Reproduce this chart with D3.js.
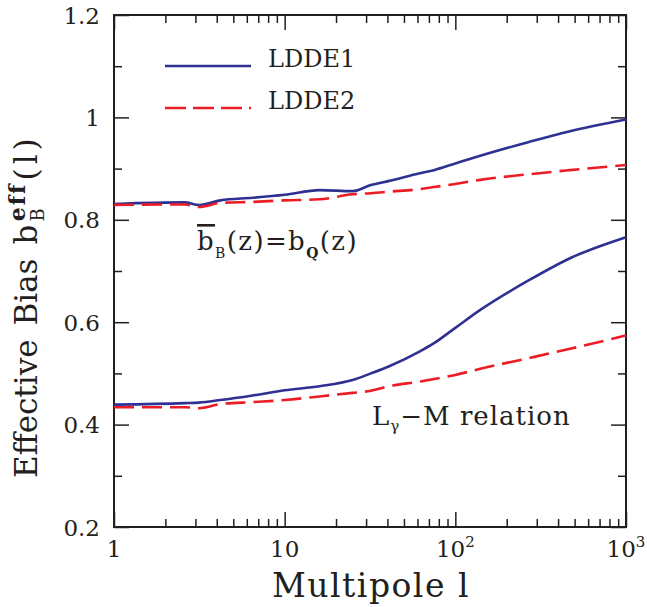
<!DOCTYPE html>
<html>
<head>
<meta charset="utf-8">
<script src="https://cdn.jsdelivr.net/npm/d3@7"></script>
<style>
  body { margin: 0; background: #fff; }
  text { font-family: "DejaVu Serif", serif; fill: #231f20; }
</style>
</head>
<body>
<svg id="chart" width="647" height="607"></svg>
<script>
// multipole values where the curves were read
const ells = [1, 2.6, 3.15, 4.2, 6.5, 10, 16, 25, 32, 41, 62, 75, 100, 140, 270, 470, 1000]

// bbar_B(z) = b_Q(z) case
const ldde1Q = [0.831, 0.834, 0.829, 0.838, 0.843, 0.849, 0.858, 0.856, 0.868, 0.876, 0.891, 0.897, 0.910, 0.925, 0.952, 0.973, 0.996]
const ldde2Q = [0.829, 0.830, 0.825, 0.833, 0.835, 0.838, 0.840, 0.850, 0.852, 0.855, 0.860, 0.864, 0.870, 0.878, 0.889, 0.897, 0.907]

// L_gamma - M relation case
const ldde1LM = [0.439, 0.442, 0.443, 0.448, 0.457, 0.467, 0.475, 0.487, 0.500, 0.514, 0.543, 0.559, 0.589, 0.624, 0.682, 0.725, 0.766]
const ldde2LM = [0.434, 0.434, 0.432, 0.440, 0.444, 0.448, 0.455, 0.462, 0.466, 0.475, 0.484, 0.489, 0.497, 0.509, 0.530, 0.548, 0.574]

const xMajor = [1, 10, 100, 1000]
const xLabels = [["1", ""], ["10", ""], ["10", "2"], ["10", "3"]]
const yMajor = [0.2, 0.4, 0.6, 0.8, 1.0, 1.2]
const yMinor = [0.3, 0.5, 0.7, 0.9, 1.1]

const blue = "#2e3192"
const red = "#ed1c24"

const svg = d3.select("#chart")
const pLeft = 114, pRight = 626, pTop = 15, pBottom = 527

const x = d3.scaleLog().domain([1, 1000]).range([pLeft, pRight])
const y = d3.scaleLinear().domain([0.2, 1.2]).range([pBottom, pTop])

// minor log ticks 2..9 in each decade
const xMinor = []
xMajor.slice(0, -1).forEach(function(d) {
    for (let k = 2; k <= 9; k++) xMinor.push(d * k)
})

function ticks(axisFn, scale, values, size, transform) {
    svg.append("g")
        .attr("transform", transform)
        .call(axisFn(scale).tickValues(values).tickSize(size).tickFormat(""))
        .call(g => g.select(".domain").remove())
        .call(g => g.selectAll("line").attr("stroke", "#231f20").attr("stroke-width", 1.5))
}

ticks(d3.axisBottom, x, xMajor, -15, `translate(0,${pBottom})`)
ticks(d3.axisBottom, x, xMinor, -8, `translate(0,${pBottom})`)
ticks(d3.axisTop, x, xMajor, -15, `translate(0,${pTop})`)
ticks(d3.axisTop, x, xMinor, -8, `translate(0,${pTop})`)
ticks(d3.axisLeft, y, yMajor, -15, `translate(${pLeft},0)`)
ticks(d3.axisLeft, y, yMinor, -8, `translate(${pLeft},0)`)
ticks(d3.axisRight, y, yMajor, -15, `translate(${pRight},0)`)
ticks(d3.axisRight, y, yMinor, -8, `translate(${pRight},0)`)

svg.append("rect")
    .attr("x", pLeft).attr("y", pTop)
    .attr("width", pRight - pLeft).attr("height", pBottom - pTop)
    .attr("fill", "none").attr("stroke", "#231f20").attr("stroke-width", 2)

// tick labels
svg.append("g").selectAll("text").data(yMajor).enter().append("text")
    .attr("x", 100).attr("y", d => y(d) + 8.5)
    .attr("text-anchor", "end")
    .style("font-size", "23px")
    .text(d => d === 1 ? "1" : d.toFixed(1))

const xl = svg.append("g").selectAll("text").data(xMajor).enter().append("text")
    .attr("x", d => x(d)).attr("y", 557)
    .attr("text-anchor", "middle")
    .style("font-size", "23px")
xl.append("tspan").text((d, i) => xLabels[i][0])
xl.append("tspan").attr("dy", -10).style("font-size", "15px").text((d, i) => xLabels[i][1])

// curves
const line = d3.line().x(d => x(d[0])).y(d => y(d[1])).curve(d3.curveMonotoneX)
const series = [
    {vals: ldde1Q, color: blue, dash: null},
    {vals: ldde2Q, color: red, dash: "20,8"},
    {vals: ldde1LM, color: blue, dash: null},
    {vals: ldde2LM, color: red, dash: "20,8"}
]
series.forEach(function(s) {
    svg.append("path")
        .datum(d3.zip(ells, s.vals))
        .attr("d", line)
        .attr("fill", "none")
        .attr("stroke", s.color)
        .attr("stroke-width", 2.6)
        .attr("stroke-dasharray", s.dash)
})

// legend
const legend = [["LDDE1", blue, null, 66], ["LDDE2", red, "21,7", 108]]
legend.forEach(function(l) {
    svg.append("line")
        .attr("x1", 165).attr("x2", 251).attr("y1", l[3]).attr("y2", l[3])
        .attr("stroke", l[1]).attr("stroke-width", 2.6).attr("stroke-dasharray", l[2])
    svg.append("text").attr("x", 268).attr("y", l[3] + 1)
        .style("font-size", "24px").text(l[0])
})

// annotations
const a1 = svg.append("text").attr("x", 197).attr("y", 250)
    .style("font-size", "26px").style("letter-spacing", "1.4px")
a1.append("tspan").attr("text-decoration", "overline").text("b")
a1.append("tspan").attr("dy", 8).style("font-size", "14px").text("B")
a1.append("tspan").attr("dy", -8).text("(z)=b")
a1.append("tspan").attr("dy", 8).style("font-size", "14px").style("font-weight", "bold").text("Q")
a1.append("tspan").attr("dy", -8).text("(z)")

const a2 = svg.append("text").attr("x", 372).attr("y", 425)
    .style("font-size", "26px").style("letter-spacing", "1px")
a2.append("tspan").text("L")
a2.append("tspan").attr("dy", 6).style("font-size", "15px").text("γ")
a2.append("tspan").attr("dy", -6).text("−M relation")

// axis titles
svg.append("text").attr("x", 371).attr("y", 597)
    .attr("text-anchor", "middle")
    .style("font-size", "33px").style("letter-spacing", "1.5px")
    .text("Multipole l")

const yt = svg.append("text")
    .attr("transform", "translate(37,478) rotate(-90)")
    .style("font-size", "31px")
yt.append("tspan").style("word-spacing", "4px").text("Effective Bias")
yt.append("tspan").attr("dx", 14).text("b")
yt.append("tspan").attr("dx", 3).attr("dy", 7).style("font-size", "18px").text("B")
yt.append("tspan").attr("dx", -13).attr("dy", -19).style("font-size", "22px")
    .style("font-weight", "bold").style("letter-spacing", "2px").text("eff")
yt.append("tspan").attr("dx", 2).attr("dy", 12).style("letter-spacing", "4px").text("(l)")
</script>
</body>
</html>
